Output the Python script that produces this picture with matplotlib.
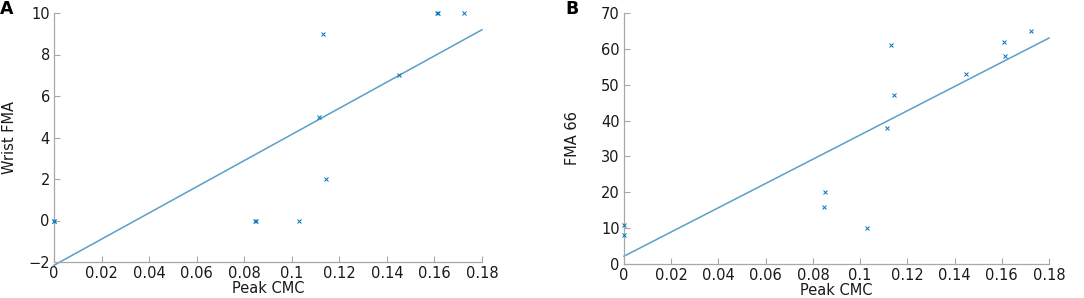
import numpy as np
import matplotlib.pyplot as plt

peak_cmc = [0, 0, 0.0845, 0.085, 0.103, 0.1115, 0.113, 0.1143, 0.145, 0.161, 0.1613, 0.1725]
wrist_fma = [0, 0, 0, 0, 0, 5, 9, 2, 7, 10, 10, 10]
fma66 = [11, 8, 16, 20, 10, 38, 61, 47, 53, 62, 58, 65]

xticks = [0, 0.02, 0.04, 0.06, 0.08, 0.1, 0.12, 0.14, 0.16, 0.18]
xticklabels = ["0", "0.02", "0.04", "0.06", "0.08", "0.1", "0.12", "0.14", "0.16", "0.18"]

W, H = 1084, 298
fig = plt.figure(figsize=(W / 100, H / 100), dpi=100)

marker_color = "#0072BD"
line_color = "#5A9FCB"
axis_color = "#A8A8A8"


def panel(rect, y, yticks, ylim, ylabel, letter, letter_x, ylabelpad):
    ax = fig.add_axes(rect)
    ax.plot(peak_cmc, y, "x", color=marker_color, ms=3.5, mew=0.7, clip_on=False, zorder=3)
    # least-squares fit line
    slope, icpt = np.polyfit(peak_cmc, y, 1)
    xs = np.array([0, 0.18])
    ax.plot(xs, icpt + slope * xs, color=line_color, lw=1.1, clip_on=False)
    ax.set_xlim(0, 0.18)
    ax.set_ylim(*ylim)
    ax.set_xticks(xticks)
    ax.set_xticklabels(xticklabels)
    ax.set_yticks(yticks)
    for s in ["top", "right"]:
        ax.spines[s].set_visible(False)
    for s in ["left", "bottom"]:
        ax.spines[s].set_color(axis_color)
        ax.spines[s].set_linewidth(0.9)
    ax.tick_params(direction="in", length=4, width=0.8, color=axis_color,
                   labelsize=10.5, labelcolor="#1a1a1a", pad=3)
    ax.set_xlabel("Peak CMC", fontsize=10.5, color="#1a1a1a", labelpad=0)
    ax.set_ylabel(ylabel, fontsize=10.5, color="#1a1a1a", labelpad=ylabelpad)
    fig.text(letter_x / W, 1 - 9 / H, letter, fontsize=12.5, fontweight="bold",
             ha="center", va="center")
    return ax


panel([54 / W, 1 - 262 / H, (482 - 54) / W, (262 - 13) / H], wrist_fma,
      [-2, 0, 2, 4, 6, 8, 10], (-2, 10), "Wrist FMA", "A", 7, 8)
panel([624 / W, 1 - 264 / H, (1049 - 624) / W, (264 - 13) / H], fma66,
      [0, 10, 20, 30, 40, 50, 60, 70], (0, 70), "FMA 66", "B", 572, 15)

fig.savefig("out.png", dpi=100)
